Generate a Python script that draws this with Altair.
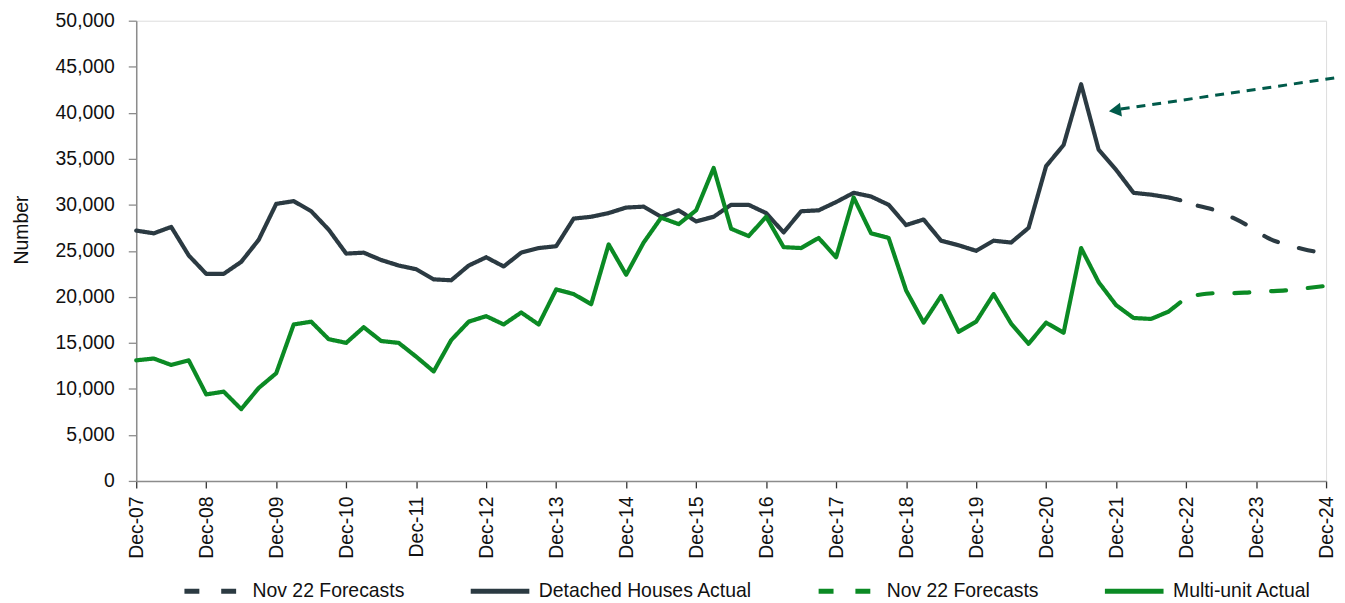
import altair as alt
import pandas as pd

# ---------------- data ----------------
x_tick_labels = ["Dec-07", "Dec-08", "Dec-09", "Dec-10", "Dec-11", "Dec-12", "Dec-13", "Dec-14",
                 "Dec-15", "Dec-16", "Dec-17", "Dec-18", "Dec-19", "Dec-20", "Dec-21", "Dec-22",
                 "Dec-23", "Dec-24"]

# months elapsed since Dec-07 (quarterly actuals, last actual = Nov-22)
actual_months = list(range(0, 178, 3)) + [179]
detached_actual = [27200, 26900, 27600, 24500, 22500, 22500, 23800, 26200, 30100, 30400,
                   29300, 27300, 24700, 24800, 24000, 23400, 23000, 21900, 21800, 23400,
                   24300, 23300, 24800, 25300, 25500, 28500, 28700, 29100, 29700, 29800,
                   28700, 29400, 28200, 28700, 30000, 30000, 29100, 27000, 29300, 29400,
                   30300, 31300, 30900, 30000, 27800, 28400, 26100, 25600, 25000, 26100,
                   25900, 27500, 34200, 36500, 43100, 36000, 33800, 31300, 31100, 30800,
                   30500]
multi_actual = [13100, 13300, 12600, 13100, 9400, 9700, 7800, 10100, 11700, 17000,
                17300, 15400, 15000, 16700, 15200, 15000, 13500, 11900, 15300, 17300,
                17900, 17000, 18300, 17000, 20800, 20300, 19200, 25700, 22400, 25900,
                28600, 27900, 29400, 34000, 27400, 26600, 28700, 25400, 25300, 26400,
                24300, 30800, 26900, 26400, 20700, 17200, 20100, 16200, 17300, 20300,
                17100, 14900, 17200, 16100, 25300, 21600, 19100, 17700, 17600, 18400,
                19400]

forecast_months = [182, 185, 188, 191, 194, 197, 200, 204]
detached_forecast = [29900, 29400, 28600, 27600, 26400, 25700, 25200, 24700]
multi_forecast = [20200, 20400, 20400, 20500, 20600, 20700, 20900, 21200]

series_keys = ["det_fc", "det_act", "mu_fc", "mu_act"]
series_labels = ["Nov 22 Forecasts", "Detached Houses Actual", "Nov 22 Forecasts", "Multi-unit Actual"]
series_colors = ["#2b3a42", "#2b3a42", "#0b8a24", "#0b8a24"]
series_dashes = [[15, 22], [1, 0], [15, 22], [1, 0]]

# annotation arrow (dashed line + head)
arrow_months = [168.8, 210.0]
arrow_values = [40400, 44200]
arrowhead_month = [167.8]
arrowhead_value = [40250]

# ---------------- tables ----------------
act = pd.concat([
    pd.DataFrame({"month": actual_months, "value": detached_actual, "series": "det_act"}),
    pd.DataFrame({"month": actual_months, "value": multi_actual, "series": "mu_act"}),
])
fc = pd.concat([
    pd.DataFrame({"month": forecast_months, "value": detached_forecast, "series": "det_fc"}),
    pd.DataFrame({"month": forecast_months, "value": multi_forecast, "series": "mu_fc"}),
])
arrow_df = pd.DataFrame({"month": arrow_months, "value": arrow_values})
head_df = pd.DataFrame({"month": arrowhead_month, "value": arrowhead_value})

FONT = "Liberation Sans, Arial, sans-serif"
FS = 19.5

label_expr_x = ("datum.value % 12 === 0 ? " + str(x_tick_labels) + "[datum.value / 12] : ''")
label_expr_leg = ("datum.value === 'det_fc' ? '%s' : datum.value === 'det_act' ? '%s' : "
                  "datum.value === 'mu_fc' ? '%s' : '%s'") % tuple(series_labels)

x_enc = alt.X(
    "month:Q",
    scale=alt.Scale(domain=[0, 204], nice=False, zero=False),
    axis=alt.Axis(
        values=list(range(0, 205, 3)),
        labelExpr=label_expr_x,
        labelAngle=270,
        labelOverlap=False,
        labelBound=False,
        labelFont=FONT,
        labelFontSize=FS,
        labelColor="#111111",
        labelPadding=8,
        tickSize={"condition": {"test": "datum.value % 12 === 0", "value": 7}, "value": 5},
        tickColor="#333333",
        tickWidth=1.3,
        domainColor="#8c8c8c",
        domainWidth=1.5,
        grid=False,
        title=None,
    ),
)
y_enc = alt.Y(
    "value:Q",
    scale=alt.Scale(domain=[0, 50000], nice=False),
    axis=alt.Axis(
        values=list(range(0, 50001, 5000)),
        format=",.0f",
        labelFont=FONT,
        labelFontSize=FS,
        labelColor="#111111",
        labelPadding=14,
        tickSize=8,
        tickColor="#8c8c8c",
        tickWidth=1.3,
        domainColor="#8c8c8c",
        domainWidth=1.5,
        grid=False,
        title="Number",
        titleFont=FONT,
        titleFontSize=FS,
        titleFontWeight="normal",
        titleColor="#111111",
        titleX=-115,
        titleY=210,
        titleAngle=270,
        titleAlign="center",
        titleBaseline="middle",
    ),
)

legend_props = dict(
    title=None,
    orient="none",
    legendX=46,
    legendY=542,
    direction="horizontal",
    columns=4,
    symbolType="stroke",
    symbolSize=3480,
    symbolStrokeWidth=5,
    labelExpr=label_expr_leg,
    labelFont=FONT,
    labelFontSize=FS,
    labelColor="#111111",
    labelLimit=400,
    labelOffset=7,
    columnPadding=56,
)

color_enc = alt.Color(
    "series:N",
    scale=alt.Scale(domain=series_keys, range=series_colors),
    legend=alt.Legend(**legend_props),
)
dash_enc = alt.StrokeDash(
    "series:N",
    scale=alt.Scale(domain=series_keys, range=series_dashes),
    legend=alt.Legend(**legend_props),
)

actual_layer = alt.Chart(act).mark_line(strokeWidth=4.2, strokeJoin="round", strokeCap="round").encode(
    x=x_enc, y=y_enc, color=color_enc, strokeDash=dash_enc, detail="series:N"
)
fc_layer = alt.Chart(fc).mark_line(strokeWidth=4.2, strokeCap="round", interpolate="monotone").encode(
    x=x_enc, y=y_enc, color=color_enc, strokeDash=dash_enc, detail="series:N"
)
arrow_line = alt.Chart(arrow_df).mark_line(
    color="#005a4a", strokeWidth=3, strokeDash=[9, 7]
).encode(x="month:Q", y="value:Q")
arrow_head = alt.Chart(head_df).mark_point(
    shape="triangle-left", filled=True, size=200, angle=352, color="#005a4a", opacity=1
).encode(x="month:Q", y="value:Q")

chart = alt.layer(actual_layer, fc_layer, arrow_line, arrow_head).properties(
    width=1197,
    height=463,
    autosize=alt.AutoSizeParams(type="none"),
    padding={"left": 129, "top": 11, "right": 11, "bottom": 120},
).configure_view(stroke=None).configure(background="white")

chart.save("out.html", embed_options={"renderer": "svg", "actions": False})
